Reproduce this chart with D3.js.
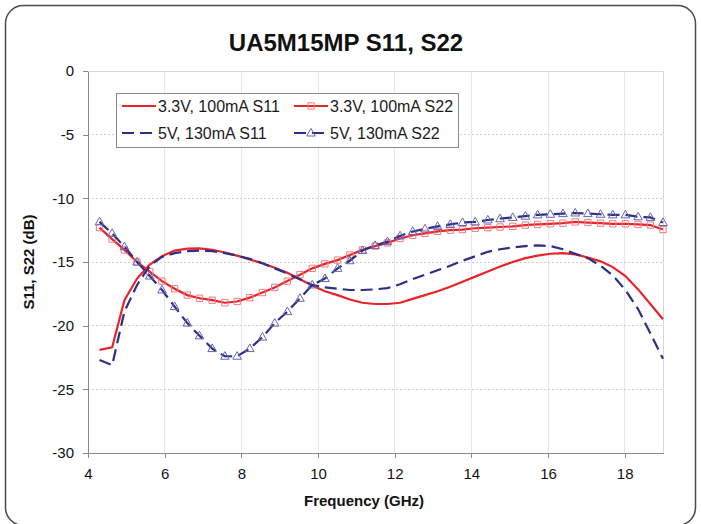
<!DOCTYPE html>
<html>
<head>
<meta charset="utf-8">
<script src="https://cdn.jsdelivr.net/npm/d3@7/dist/d3.min.js"></script>
<style>
	body { margin: 0; background: #fff; }
	svg { display: block; font-family: Arial, "Liberation Sans", sans-serif; }
	.axis path, .axis line { stroke: #8a8a8a; shape-rendering: crispEdges; }
	.axis text { fill: #111; font-size: 15px; }
	.grid-h line { stroke: #cfcfcf; stroke-dasharray: 2,2; shape-rendering: crispEdges; }
	.grid-v line { stroke: #e6e6e6; shape-rendering: crispEdges; }
	.axis-label { font-size: 15px; font-weight: bold; fill: #111; }
	.legend text { font-size: 16px; fill: #1a1a1a; }
</style>
</head>
<body>
<div id="chart"></div>
<script>
//Frequency points (GHz)
var freq = [4.30, 4.63, 4.95, 5.28, 5.61, 5.93, 6.26, 6.59, 6.91, 7.24,
	7.57, 7.89, 8.22, 8.55, 8.87, 9.20, 9.53, 9.85, 10.18, 10.51,
	10.83, 11.16, 11.49, 11.81, 12.14, 12.47, 12.79, 13.12, 13.45, 13.77,
	14.10, 14.43, 14.75, 15.08, 15.41, 15.73, 16.06, 16.39, 16.71, 17.04,
	17.37, 17.69, 18.02, 18.35, 18.67, 19.00];

//3.3V, 100mA S11 (dB)
var s11Low = [-21.9, -21.7, -18.0, -16.3, -15.2, -14.55, -14.1, -13.95, -13.93, -14.05,
	-14.25, -14.5, -14.8, -15.1, -15.45, -15.85, -16.35, -16.85, -17.3, -17.6,
	-17.95, -18.2, -18.3, -18.3, -18.2, -17.9, -17.6, -17.3, -16.95, -16.55,
	-16.15, -15.75, -15.35, -15.0, -14.7, -14.5, -14.35, -14.3, -14.4, -14.65,
	-14.95, -15.4, -16.1, -17.15, -18.3, -19.5];

//3.3V, 100mA S22 (dB)
var s22Low = [-12.3, -13.2, -14.05, -15.0, -15.75, -16.5, -17.1, -17.6, -17.85, -18.0,
	-18.2, -18.1, -17.8, -17.4, -17.0, -16.5, -16.0, -15.5, -15.15, -14.85,
	-14.45, -14.05, -13.75, -13.5, -13.15, -12.9, -12.75, -12.6, -12.5, -12.45,
	-12.35, -12.3, -12.25, -12.2, -12.1, -12.05, -12.0, -11.95, -11.85, -11.9,
	-11.95, -12.0, -12.0, -12.05, -12.1, -12.45];

//5V, 130mA S11 (dB)
var s11High = [-22.7, -23.1, -18.9, -16.8, -15.3, -14.6, -14.3, -14.15, -14.1, -14.15,
	-14.3, -14.5, -14.75, -15.1, -15.5, -15.9, -16.35, -16.8, -17.0, -17.1,
	-17.2, -17.2, -17.15, -17.05, -16.75, -16.35, -16.0, -15.65, -15.3, -14.9,
	-14.55, -14.2, -14.0, -13.85, -13.75, -13.7, -13.75, -14.0, -14.35, -14.7,
	-15.3, -16.05, -17.2, -18.7, -20.6, -22.6];

//5V, 130mA S22 (dB)
var s22High = [-11.85, -12.75, -13.8, -15.0, -16.1, -17.2, -18.5, -19.8, -20.8, -21.8,
	-22.4, -22.4, -21.8, -20.9, -19.8, -18.9, -17.85, -16.8, -16.3, -15.5,
	-14.9, -14.1, -13.7, -13.4, -12.95, -12.6, -12.4, -12.2, -12.05, -11.9,
	-11.85, -11.7, -11.6, -11.5, -11.4, -11.3, -11.25, -11.2, -11.15, -11.2,
	-11.25, -11.3, -11.3, -11.45, -11.5, -11.9];

var seriesNames = ["3.3V, 100mA S11", "3.3V, 100mA S22", "5V, 130mA S11", "5V, 130mA S22"];
var xTicks = [4, 6, 8, 10, 12, 14, 16, 18];
var yTicks = [0, -5, -10, -15, -20, -25, -30];

var renderChart = function() {
	//SVG setup
	var margin = { top: 71, right: 38, bottom: 71, left: 88 };
	var width = 701 - margin.left - margin.right;
	var height = 524 - margin.top - margin.bottom;

	var root = d3.select('#chart')
		.append('svg')
		.attr('width', 701)
		.attr('height', 524);

	//Outer rounded frame
	root.append('rect')
		.attr('x', 5.5)
		.attr('y', 5.5)
		.attr('width', 690)
		.attr('height', 520)
		.attr('rx', 18)
		.attr('fill', '#fff')
		.attr('stroke', '#4a4a4a')
		.attr('stroke-width', 1.5);

	//Title
	root.append('text')
		.attr('x', 346)
		.attr('y', 51)
		.attr('text-anchor', 'middle')
		.style('font-size', '24px')
		.style('font-weight', 'bold')
		.attr('fill', '#111')
		.text('UA5M15MP S11, S22');

	var svg = root.append('g')
		.attr('transform', 'translate(' + margin.left + ',' + margin.top + ')');

	//Scales
	var x = d3.scaleLinear()
		.domain([4, 19])
		.range([0, width]);

	var y = d3.scaleLinear()
		.domain([0, -30])
		.range([0, height]);

	//Grid lines
	svg.append('g')
		.attr('class', 'grid-v')
		.selectAll('line')
		.data(xTicks.slice(1))
		.enter()
		.append('line')
		.attr('x1', function(d) { return x(d); })
		.attr('x2', function(d) { return x(d); })
		.attr('y1', 0)
		.attr('y2', height);

	svg.append('g')
		.attr('class', 'grid-h')
		.selectAll('line')
		.data(yTicks.slice(1, -1))
		.enter()
		.append('line')
		.attr('x1', 0)
		.attr('x2', width)
		.attr('y1', function(d) { return y(d); })
		.attr('y2', function(d) { return y(d); });

	//Plot area border (top and right)
	svg.append('path')
		.attr('d', 'M0,0.5H' + (width + 0.5) + 'V' + height)
		.attr('fill', 'none')
		.attr('stroke', '#d8d8d8');

	//Axes (plain hyphen for negatives, like the original)
	var plain = function(d) { return String(d); };

	svg.append('g')
		.attr('class', 'x axis')
		.attr('transform', 'translate(0,' + height + ')')
		.call(d3.axisBottom(x).tickValues(xTicks).tickFormat(plain).tickSize(5).tickPadding(10).tickSizeOuter(0));

	svg.append('g')
		.attr('class', 'y axis')
		.call(d3.axisLeft(y).tickValues(yTicks).tickFormat(plain).tickSize(5).tickPadding(9).tickSizeOuter(0));

	//Axis labels
	svg.append('text')
		.attr('class', 'axis-label')
		.attr('x', x(11.2))
		.attr('y', height + 53)
		.attr('text-anchor', 'middle')
		.text('Frequency (GHz)');

	svg.append('text')
		.attr('class', 'axis-label')
		.attr('transform', 'rotate(-90)')
		.attr('x', -height / 2)
		.attr('y', -54)
		.attr('text-anchor', 'middle')
		.text('S11, S22 (dB)');

	//Series styling
	var series = [
		{ name: seriesNames[0], values: s11Low, color: '#e8242b', dash: null, marker: null },
		{ name: seriesNames[1], values: s22Low, color: '#e8242b', dash: null, marker: 'square' },
		{ name: seriesNames[2], values: s11High, color: '#2b2f86', dash: '12,6', marker: null },
		{ name: seriesNames[3], values: s22High, color: '#2b2f86', dash: '12,6', marker: 'triangle' }
	];
	var markerColor = { square: '#f07a80', triangle: '#6466b4' };

	var line = d3.line()
		.x(function(d, i) { return x(freq[i]); })
		.y(function(d) { return y(d); });

	var symbolPath = function(type) {
		if (type === 'square') return d3.symbol().type(d3.symbolSquare).size(40)();
		return 'M0,-4.6L4.3,3L-4.3,3Z';
	};

	var serie = svg.selectAll('.serie')
		.data(series)
		.enter()
		.append('g')
		.attr('class', 'serie');

	serie.append('path')
		.attr('d', function(d) { return line(d.values); })
		.attr('fill', 'none')
		.attr('stroke', function(d) { return d.color; })
		.attr('stroke-width', 2.2)
		.attr('stroke-dasharray', function(d) { return d.dash; });

	serie.filter(function(d) { return d.marker; })
		.selectAll('.mark')
		.data(function(d) { return d.values.map(function(v, i) { return { f: freq[i], v: v, marker: d.marker }; }); })
		.enter()
		.append('path')
		.attr('class', 'mark')
		.attr('transform', function(d) { return 'translate(' + x(d.f) + ',' + y(d.v) + ')'; })
		.attr('d', function(d) { return symbolPath(d.marker); })
		.attr('fill', 'none')
		.attr('stroke', function(d) { return markerColor[d.marker]; })
		.attr('stroke-width', 1);

	//Legend
	var legend = root.append('g')
		.attr('class', 'legend')
		.attr('transform', 'translate(116,93)');

	legend.append('rect')
		.attr('x', 0.5)
		.attr('y', 0.5)
		.attr('width', 342)
		.attr('height', 54)
		.attr('fill', '#fff')
		.attr('stroke', '#8a8a8a');

	var item = legend.selectAll('.item')
		.data(series)
		.enter()
		.append('g')
		.attr('class', 'item')
		.attr('transform', function(d, i) { return 'translate(' + (i % 2 ? 178 : 6) + ',' + (i < 2 ? 13 : 40) + ')'; });

	item.append('line')
		.attr('x1', 0)
		.attr('x2', 34)
		.attr('stroke', function(d) { return d.color; })
		.attr('stroke-width', 2.2)
		.attr('stroke-dasharray', function(d) { return d.dash; });

	item.filter(function(d) { return d.marker; })
		.append('path')
		.attr('transform', 'translate(17,0)')
		.attr('d', function(d) { return symbolPath(d.marker); })
		.attr('fill', 'none')
		.attr('stroke', function(d) { return markerColor[d.marker]; });

	item.append('text')
		.attr('x', 36)
		.attr('dy', '0.35em')
		.text(function(d) { return d.name; });
};

renderChart();
</script>
</body>
</html>
